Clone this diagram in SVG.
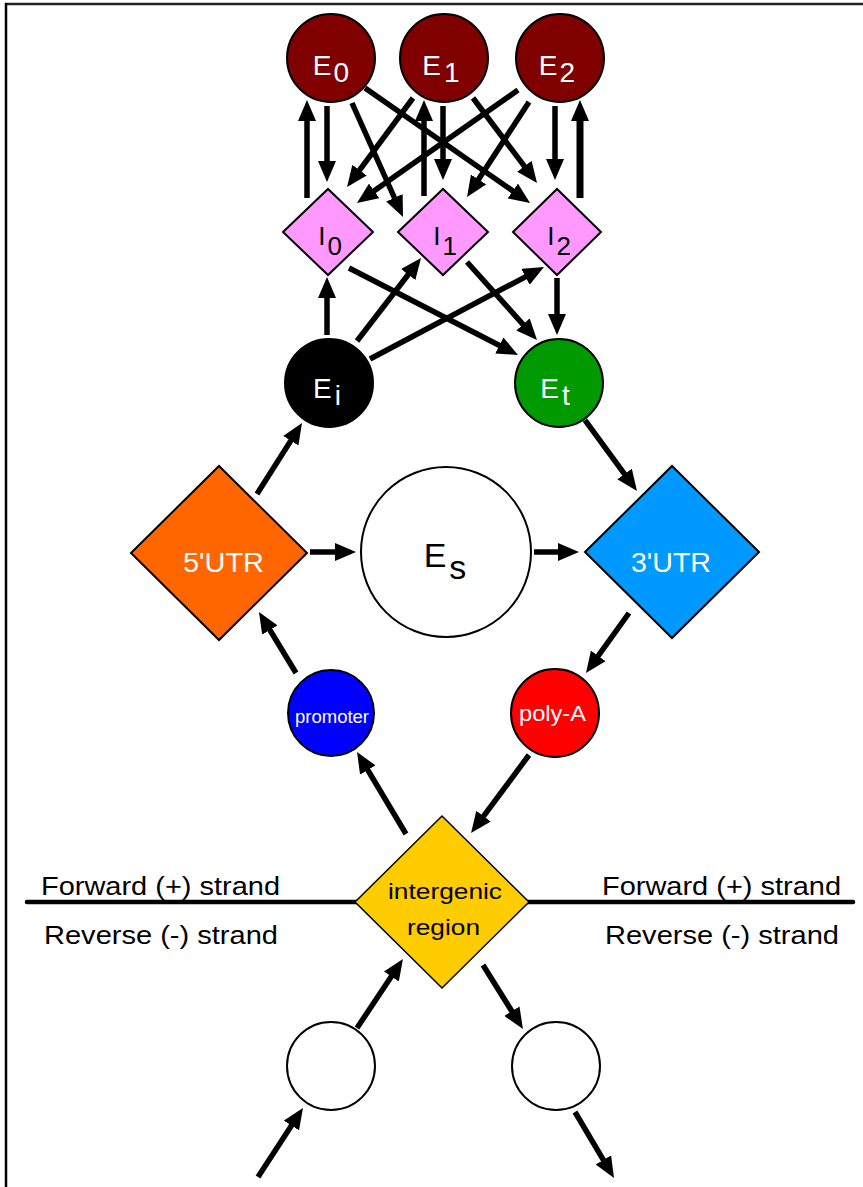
<svg xmlns="http://www.w3.org/2000/svg" width="863" height="1187" viewBox="0 0 863 1187">
<style>
text{font-family:"Liberation Sans",Arial,sans-serif}
.nd{stroke:#000;stroke-width:2}
.w{fill:#fff}
.k{fill:#000}
.c line{stroke:#000;stroke-width:5.5;marker-end:url(#ah)}
</style>
<defs>
<marker id="ah" markerUnits="userSpaceOnUse" markerWidth="22" markerHeight="18" refX="9" refY="9" orient="auto" viewBox="0 0 22 18">
<path d="M0,0 L21,9 L0,18 z" fill="#000"/>
</marker>
</defs>
<rect width="863" height="1187" fill="#fff"/>
<g id="frame">
<line x1="5" y1="4" x2="863" y2="4" stroke="#222" stroke-width="2.5"/>
<line x1="6" y1="3" x2="6" y2="1187" stroke="#000" stroke-width="2.5"/>
</g>
<g id="strand">
<line x1="27" y1="902" x2="853" y2="902" stroke="#000" stroke-width="4.5" stroke-linecap="round"/>
<text x="41" y="895" font-size="25" textLength="239" lengthAdjust="spacingAndGlyphs">Forward (+) strand</text>
<text x="44" y="944" font-size="25" textLength="234" lengthAdjust="spacingAndGlyphs">Reverse (-) strand</text>
<text x="602" y="895" font-size="25" textLength="239" lengthAdjust="spacingAndGlyphs">Forward (+) strand</text>
<text x="605" y="944" font-size="25" textLength="234" lengthAdjust="spacingAndGlyphs">Reverse (-) strand</text>
</g>
<g class="c" id="connectors">
<line x1="307" y1="198" x2="307" y2="112"/>
<line x1="327" y1="106" x2="327" y2="170"/>
<line x1="413" y1="98" x2="354.2" y2="177.4"/>
<line x1="518" y1="90" x2="366.8" y2="196.1"/>
<line x1="352" y1="103" x2="398.1" y2="206"/>
<line x1="443" y1="106" x2="443" y2="168"/>
<line x1="529" y1="102" x2="473.6" y2="187"/>
<line x1="365" y1="88" x2="520.2" y2="196.1"/>
<line x1="473" y1="98" x2="529.8" y2="173.4"/>
<line x1="555" y1="106" x2="555" y2="168"/>
<line x1="424" y1="196" x2="424" y2="112"/>
<line x1="580" y1="198" x2="580" y2="112" style="stroke-width:7"/>
<line x1="327" y1="335" x2="327" y2="289"/>
<line x1="357" y1="341" x2="413.7" y2="267.5"/>
<line x1="370" y1="359" x2="533.4" y2="272.6"/>
<line x1="349" y1="268" x2="507.3" y2="349.5"/>
<line x1="467" y1="262" x2="529" y2="331.1"/>
<line x1="557" y1="278" x2="557" y2="323"/>
<line x1="257" y1="494" x2="295.6" y2="433.1"/>
<line x1="310" y1="552" x2="344" y2="552"/>
<line x1="534" y1="552" x2="567" y2="552"/>
<line x1="585" y1="420" x2="629.9" y2="481.3"/>
<line x1="296" y1="673" x2="265.2" y2="622.3"/>
<line x1="629" y1="613" x2="593" y2="663.2"/>
<line x1="406" y1="834" x2="363.2" y2="762.3"/>
<line x1="529" y1="755" x2="478.2" y2="823.4"/>
<line x1="258" y1="1177" x2="296.4" y2="1118"/>
<line x1="357" y1="1028" x2="396.3" y2="969"/>
<line x1="483" y1="965" x2="516.6" y2="1018.8"/>
<line x1="575" y1="1112" x2="607.9" y2="1167.7"/>
</g>
<g id="E0"><circle class="nd" cx="331" cy="58" r="44" fill="#800000"/><text class="w" x="331" y="75" font-size="28" text-anchor="middle">E<tspan dx="2" dy="7">0</tspan></text></g>
<g id="E1"><circle class="nd" cx="444" cy="58" r="44" fill="#800000"/><text class="w" x="441" y="75" font-size="28" text-anchor="middle">E<tspan dx="3" dy="7">1</tspan></text></g>
<g id="E2"><circle class="nd" cx="560" cy="58" r="44" fill="#800000"/><text class="w" x="557" y="75" font-size="28" text-anchor="middle">E<tspan dx="2" dy="7">2</tspan></text></g>
<g id="I0"><path class="nd" d="M283,232 L328,189 L373,232 L328,275 Z" fill="#ff99ff"/><text class="k" x="330" y="245" font-size="26" text-anchor="middle">I<tspan dx="2" dy="10">0</tspan></text></g>
<g id="I1"><path class="nd" d="M398,232 L443,189 L488,232 L443,275 Z" fill="#ff99ff"/><text class="k" x="445" y="245" font-size="26" text-anchor="middle">I<tspan dx="2" dy="10">1</tspan></text></g>
<g id="I2"><path class="nd" d="M513,232 L557,189 L601,232 L557,275 Z" fill="#ff99ff"/><text class="k" x="559" y="245" font-size="26" text-anchor="middle">I<tspan dx="2" dy="10">2</tspan></text></g>
<g id="Ei"><circle class="nd" cx="329" cy="383" r="44" fill="#000"/><text class="w" x="327" y="398" font-size="28" text-anchor="middle">E<tspan dx="3" dy="7">i</tspan></text></g>
<g id="Et"><circle class="nd" cx="559" cy="383" r="44" fill="#009900"/><text class="w" x="555" y="398" font-size="28" text-anchor="middle">E<tspan dx="3" dy="7">t</tspan></text></g>
<g id="UTR5"><path class="nd" d="M131,553 L219,466 L307,553 L219,640 Z" fill="#ff6600"/><text class="w" x="183" y="572" font-size="27" textLength="81" lengthAdjust="spacingAndGlyphs">5'UTR</text></g>
<g id="Es"><circle class="nd" cx="446" cy="552" r="85" fill="#fff"/><text class="k" x="445" y="567" font-size="34" text-anchor="middle">E<tspan dx="3" dy="12">s</tspan></text></g>
<g id="UTR3"><path class="nd" d="M585,552 L672,466 L759,552 L672,638 Z" fill="#0099ff"/><text class="w" x="631" y="572" font-size="27" textLength="80" lengthAdjust="spacingAndGlyphs">3'UTR</text></g>
<g id="promoter"><circle class="nd" cx="331" cy="713" r="43" fill="#0000ff"/><text class="w" x="295" y="723" font-size="18" textLength="74" lengthAdjust="spacingAndGlyphs">promoter</text></g>
<g id="polyA"><circle class="nd" cx="555" cy="713" r="44" fill="#ff0000"/><text class="w" x="519" y="721" font-size="22" textLength="67" lengthAdjust="spacingAndGlyphs">poly-A</text></g>
<g id="intergenic"><path class="nd" d="M355,902 L442,816 L529,902 L442,988 Z" fill="#ffcc00" style="stroke-width:1.5"/><text class="k" x="388" y="899" font-size="22" textLength="114" lengthAdjust="spacingAndGlyphs">intergenic</text><text class="k" x="407" y="935" font-size="22" textLength="73" lengthAdjust="spacingAndGlyphs">region</text></g>
<g id="L1"><circle class="nd" cx="331" cy="1066" r="44" fill="#fff"/></g>
<g id="R1"><circle class="nd" cx="556" cy="1066" r="44" fill="#fff"/></g>
</svg>
